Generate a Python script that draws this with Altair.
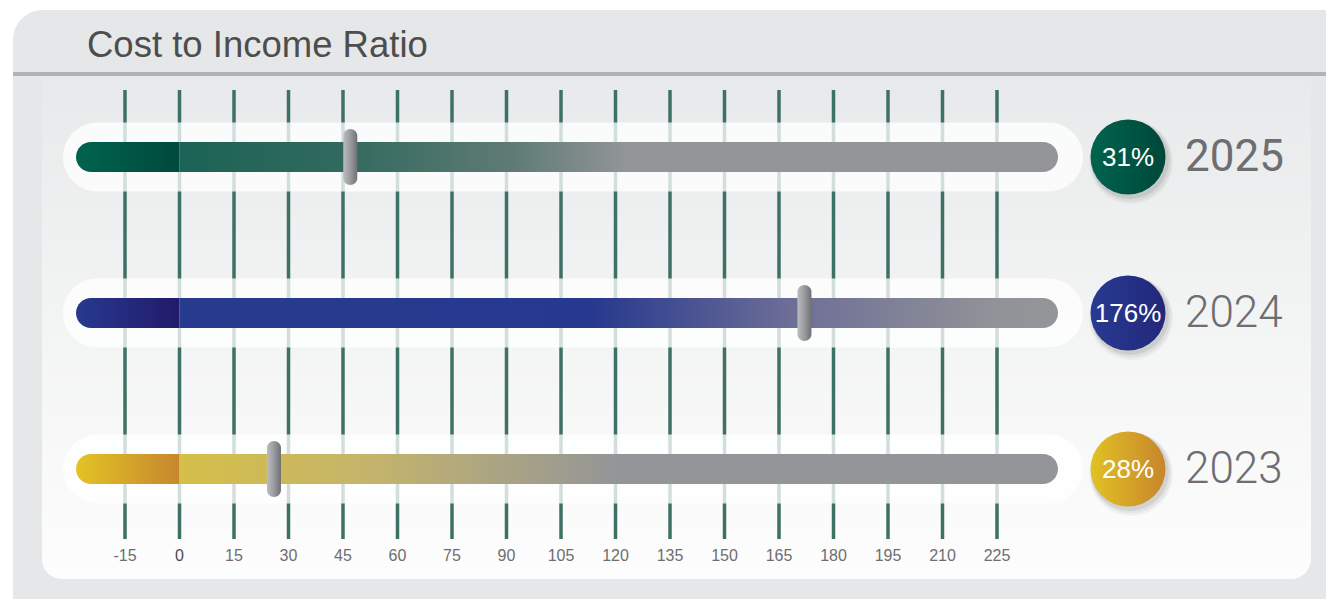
import altair as alt
import pandas as pd

# ---------------- data ----------------
years = ["2025", "2024", "2023"]
pct_labels = ["31%", "176%", "28%"]
marker_values = [47, 172, 26]
tick_values = [-15, 0, 15, 30, 45, 60, 75, 90, 105, 120, 135, 150, 165, 180, 195, 210, 225]
title_text = "Cost to Income Ratio"

# ---------------- layout / style ----------------
W, H = 1326, 599
PX_PER_UNIT = 54.5 / 15
ZERO_PX = 179.5
x_domain = [-ZERO_PX / PX_PER_UNIT, (W - ZERO_PX) / PX_PER_UNIT]


def px2v(p):
    return (p - ZERO_PX) / PX_PER_UNIT


TRACK_START, TRACK_END = px2v(63), px2v(1083)
BAR_START, BAR_END = px2v(76), px2v(1058)
HALF_PILL = 7 / PX_PER_UNIT
FONT = "Liberation Sans"


def lg(stops, vertical=False):
    return alt.LinearGradient(
        gradient="linear",
        stops=[alt.GradientStop(color=c, offset=o) for o, c in stops],
        x1=0, y1=0, x2=0 if vertical else 1, y2=1 if vertical else 0,
    )


left_grads = [
    lg([(0, "#00634f"), (1, "#004a3d")]),
    lg([(0, "#27398f"), (1, "#221a6a")]),
    lg([(0, "#e3c326"), (1, "#c6872e")]),
]
main_grads = [
    lg([(0, "#1b6355"), (0.19, "#326a5f"), (0.38, "#5f7b74"), (0.51, "#939598"), (1, "#939598")]),
    lg([(0, "#263b8e"), (0.47, "#27398e"), (0.70, "#6e6f97"), (0.93, "#919398"), (1, "#939598")]),
    lg([(0, "#d5bf48"), (0.22, "#c4b46c"), (0.50, "#939598"), (1, "#939598")]),
]
circle_grads = [
    lg([(0, "#00644f"), (1, "#00473a")]),
    lg([(0, "#283a92"), (1, "#22287a")]),
    lg([(0, "#e1c223"), (1, "#c8852c")]),
]
pill_grad = lg([(0, "#bcbdbf"), (0.5, "#9a9b9e"), (1, "#6f7074")])
year_weights = [400, 300, 300]

df = pd.DataFrame({"year": years, "pct": pct_labels, "marker": marker_values, "w": year_weights})
df_ticks = pd.DataFrame({"v": tick_values, "label": [str(v) for v in tick_values]})
one = pd.DataFrame({"a": [1]})

xs = alt.Scale(domain=x_domain, range=[0, W], nice=False, zero=False)
ys = alt.Scale(type="point", domain=years, range=[157, 469], padding=0)
Y = alt.Y("year:N", scale=ys, axis=None)


def XD(v):
    return alt.XDatum(v, type="quantitative", scale=xs, axis=None)


layers = []

# background panels
layers.append(alt.Chart(one).mark_rect(color="#e6e7e8", cornerRadius=30).encode(
    x=alt.value(13), x2=alt.value(1400), y=alt.value(10), y2=alt.value(700)))
layers.append(alt.Chart(one).mark_rect(color="#b1b2b4").encode(
    x=alt.value(13), x2=alt.value(W), y=alt.value(72), y2=alt.value(76)))
layers.append(alt.Chart(one).mark_rect(
    color=lg([(0, "#e8e9ea"), (0.5, "#f3f4f4"), (1, "#fdfdfd")], vertical=True),
    cornerRadiusBottomLeft=20, cornerRadiusBottomRight=20).encode(
    x=alt.value(42), x2=alt.value(1311), y=alt.value(77), y2=alt.value(579)))

# title
layers.append(alt.Chart(one).mark_text(
    text=title_text, font=FONT, fontSize=36.5, color="#4d4d4d", align="left", baseline="alphabetic").encode(
    x=alt.value(87), y=alt.value(57)))

# tick lines
layers.append(alt.Chart(df_ticks).mark_rule(color="#3e7166", strokeWidth=3.5).encode(
    x=alt.X("v:Q", scale=xs, axis=None), y=alt.value(90), y2=alt.value(539)))

# tick labels
layers.append(alt.Chart(df_ticks).mark_text(font=FONT, fontSize=16, align="center", baseline="alphabetic").encode(
    x=alt.X("v:Q", scale=xs, axis=None), y=alt.value(561), text="label:N",
    color=alt.condition(alt.datum.v == 0, alt.value("#4a4a4c"), alt.value("#6d6e71"))))

# tracks
layers.append(alt.Chart(df).mark_bar(color="white", opacity=0.77, size=69, cornerRadius=34.5).encode(
    x=XD(TRACK_START), x2=alt.X2Datum(TRACK_END), y=Y))

for i, yr in enumerate(years):
    base = alt.Chart(df).transform_filter(alt.datum.year == yr)
    layers.append(base.mark_bar(color=left_grads[i], size=30,
                                cornerRadiusTopLeft=15, cornerRadiusBottomLeft=15).encode(
        x=XD(BAR_START), x2=alt.X2Datum(0), y=Y))
    layers.append(base.mark_bar(color=main_grads[i], size=30,
                                cornerRadiusTopRight=15, cornerRadiusBottomRight=15).encode(
        x=XD(0), x2=alt.X2Datum(BAR_END), y=Y))

# markers
layers.append(alt.Chart(df).transform_calculate(
    lo=f"datum.marker - {HALF_PILL}", hi=f"datum.marker + {HALF_PILL}").mark_bar(
    color=pill_grad, size=56, cornerRadius=7).encode(
    x=alt.X("lo:Q", scale=xs, axis=None), x2="hi:Q", y=Y))

# circle shadows (symbol size = bounding-box area = diameter^2)
for d, op, dx, dy in [(84, 0.035, 3, 5), (81, 0.05, 3, 4), (78, 0.08, 2, 3)]:
    layers.append(alt.Chart(df).mark_circle(color="#000000", opacity=op, size=d * d).encode(
        x=alt.value(1128 + dx), y=Y, yOffset=alt.value(dy)))

for i, yr in enumerate(years):
    layers.append(alt.Chart(df).transform_filter(alt.datum.year == yr).mark_circle(
        color=circle_grads[i], opacity=1, size=75 * 75).encode(
        x=alt.value(1128), y=Y))

layers.append(alt.Chart(df).mark_text(color="white", font=FONT, fontSize=26, align="center",
                                      baseline="alphabetic", dy=9.3).encode(
    x=alt.value(1128), y=Y, text="pct:N"))

for wt in sorted(set(year_weights)):
    layers.append(alt.Chart(df).transform_filter(alt.datum.w == wt).mark_text(
        color="#6d6e71", font="Roboto", fontSize=44, fontWeight=wt, align="left",
        baseline="alphabetic", dy=14).encode(
        x=alt.value(1185), y=Y, text="year:N"))

chart = alt.layer(*layers).properties(
    width=W, height=H, padding=0, autosize=alt.AutoSizeParams(type="none"), background="white"
).configure_view(stroke=None)

chart.save("out.html", embed_options={"renderer": "svg", "actions": False})
